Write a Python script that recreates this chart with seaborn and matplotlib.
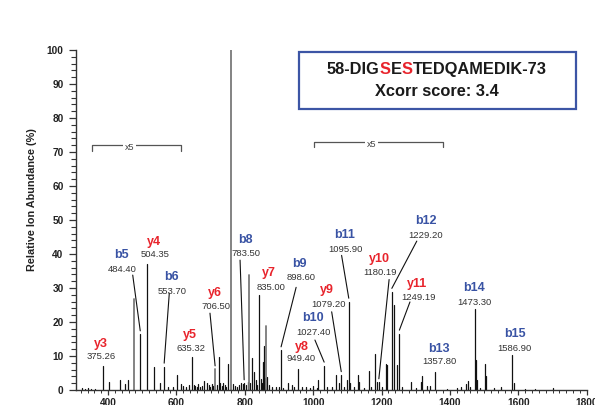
import numpy as np
import pandas as pd
import matplotlib
matplotlib.use("Agg")
import matplotlib.pyplot as plt
import seaborn as sns
from matplotlib.ticker import MultipleLocator
from matplotlib.patches import Rectangle

# spectrum peaks (m/z, relative ion abundance %)
peak_mz = [325, 333, 340, 350, 362, 386, 403, 435, 448, 459, 475, 494, 515, 535, 551,
           564, 575, 590, 601, 612, 620, 628, 636, 645, 650, 655, 660, 664, 670, 676,
           681, 689, 694, 698, 703, 707, 713, 718, 723, 728, 733, 737, 742, 746, 752,
           760, 766, 771, 778, 784, 789, 794, 798, 803, 808, 813, 816, 820, 827, 832,
           836, 842, 846, 849, 852, 856, 859, 862, 866, 870, 878, 890, 900, 906, 912,
           927, 938, 945, 956, 968, 980, 990, 1000, 1010, 1015, 1032, 1040, 1055, 1066,
           1074, 1082, 1090, 1098, 1104, 1108, 1120, 1132, 1135, 1150, 1164, 1170, 1182,
           1187, 1192, 1200, 1213, 1217, 1230, 1235, 1245, 1252, 1260, 1286, 1300, 1314,
           1319, 1332, 1341, 1357, 1390, 1420, 1432, 1446, 1454, 1458, 1472, 1475, 1478,
           1488, 1502, 1505, 1530, 1550, 1582, 1586, 1620, 1650, 1702]
peak_int = [0.5, 0.4, 0.6, 0.4, 0.3, 7.1, 2.4, 2.9, 1.7, 2.9, 26.7, 16.4, 37.2, 6.9, 2.0,
            6.9, 1.0, 0.8, 4.4, 1.7, 1.2, 0.8, 1.5, 9.8, 1.6, 1.2, 1.0, 1.8, 0.8, 1.2,
            2.7, 2.0, 1.5, 0.8, 1.8, 1.2, 6.1, 1.5, 9.8, 2.0, 1.3, 2.0, 1.6, 1.0, 7.6,
            100, 1.8, 1.3, 1.0, 1.4, 2.0, 1.8, 2.0, 1.6, 2.5, 33.8, 2.2, 9.3, 5.4, 2.8,
            1.5, 27.9, 3.2, 2.0, 8.3, 13.0, 3.5, 18.8, 3.9, 1.5, 1.0, 0.8, 1.0, 11.7, 0.6,
            2.0, 1.5, 0.8, 6.1, 1.0, 0.8, 0.5, 1.2, 0.6, 2.9, 7.2, 1.0, 0.8, 4.4,
            2.0, 4.4, 1.0, 2.9, 26.0, 2.0, 0.8, 4.4, 2.4, 0.6, 5.6, 1.0, 10.6,
            2.4, 2.3, 0.8, 7.6, 7.3, 28.9, 25.0, 7.3, 16.6, 0.8, 2.4, 0.5, 2.4,
            4.1, 1.2, 1.2, 5.2, 0.4, 0.6, 0.8, 1.8, 2.6, 1.0, 23.7, 8.8, 2.9,
            0.6, 7.6, 4.1, 0.5, 1.0, 10.3, 2.1, 0.4, 0.4, 0.7]
gray_mz = [475, 713, 760, 813, 862]

# annotated fragment ions
ion_names = ['y3', 'b5', 'y4', 'b6', 'y5', 'y6', 'b8', 'y7', 'b9', 'y8', 'b10', 'y9',
             'b11', 'y10', 'b12', 'y11', 'b13', 'b14', 'b15']
ion_values = ['375.26', '484.40', '504.35', '553.70', '635.32', '706.50', '783.50',
              '835.00', '898.60', '949.40', '1027.40', '1079.20', '1095.90', '1180.19',
              '1229.20', '1249.19', '1357.80', '1473.30', '1586.90']
ion_peak = [386, 494, 515, 564, 645, 713, 798, 842, 906, 956, 1032, 1082, 1104, 1192,
            1230, 1252, 1357, 1472, 1582]

# label layout: (x, y) of the ion name, of the m/z text, and where a leader starts
label_pos = [(379, 13.5), (440, 39.6), (535, 43.4), (586, 33.1), (640, 16.1),
             (713, 28.4), (801, 44.2), (871, 34.3), (961, 37.0), (966, 12.7),
             (998, 21.1), (1041, 29.4), (1091, 45.5), (1195, 38.5), (1330, 49.6),
             (1304, 31.1), (1368, 12.2), (1470, 29.9), (1589, 16.4)]
value_pos = [(379, 9.8), (442, 35.5), (537, 39.8), (588, 29.1), (642, 12.2),
             (715, 24.7), (804, 40.1), (876, 30.2), (966, 33.0), (964, 9.2),
             (1002, 17.0), (1044, 25.2), (1093, 41.4), (1195, 34.7), (1330, 45.4),
             (1309, 27.2), (1368, 8.3), (1472, 25.8), (1589, 12.2)]
leader_from = [None, (472, 33.8), None, (579, 28.5), None, (698, 22.6), (786, 38.2),
               None, (950, 30.2), None, (1005, 14.7), (1054, 23.0), (1083, 39.6),
               (1222, 32.5), (1303, 43.8), (1283, 25.9), None, None, None]

BLUE = '#3953a4'
RED = '#e8242c'

sns.set_theme(style="ticks")
plt.rcParams['font.family'] = ['Liberation Sans', 'DejaVu Sans']

# stems as two-point lines per peak
rows = []
for i, (m, h) in enumerate(zip(peak_mz, peak_int)):
    tone = 'gray' if m in gray_mz else 'black'
    rows.append({'peak': i, 'mz': m, 'intensity': 0.0, 'tone': tone})
    rows.append({'peak': i, 'mz': m, 'intensity': h, 'tone': tone})
df = pd.DataFrame(rows)

fig = plt.figure(figsize=(5.95, 4.05), dpi=100)
ax = fig.add_axes([0.1277, 0.037, 0.8589, 0.8395])

sns.lineplot(data=df[df['tone'] == 'black'], x='mz', y='intensity', units='peak',
             estimator=None, sort=False, color='#111111', lw=0.9, ax=ax)
sns.lineplot(data=df[df['tone'] == 'gray'], x='mz', y='intensity', units='peak',
             estimator=None, sort=False, color='#7a7a7a', lw=1.3, ax=ax)

ax.set_xlim(306, 1801)
ax.set_ylim(0, 100)
ax.xaxis.set_major_locator(MultipleLocator(200))
ax.xaxis.set_minor_locator(MultipleLocator(20))
ax.yaxis.set_major_locator(MultipleLocator(10))
ax.yaxis.set_minor_locator(MultipleLocator(2))
ax.set_xticks(range(400, 1801, 200))
sns.despine(ax=ax)
for side in ['left', 'bottom']:
    ax.spines[side].set_color('#333333')
    ax.spines[side].set_linewidth(1.0)
ax.tick_params(axis='y', which='major', length=5.4, width=0.9, color='#333333',
               pad=3.5, labelsize=7.3, labelcolor='#222222')
ax.tick_params(axis='y', which='minor', length=3.8, width=0.8, color='#333333')
ax.tick_params(axis='x', which='major', length=3.8, width=0.9, color='#333333',
               pad=2.0, labelsize=7.3, labelcolor='#222222')
ax.tick_params(axis='x', which='minor', length=2.2, width=0.7, color='#333333')
for lab in ax.get_xticklabels() + ax.get_yticklabels():
    lab.set_fontweight('bold')

ax.set_xlabel('')
ax.set_ylabel('Relative Ion Abundance (%)', fontsize=7.8, fontweight='bold', color='#222222')
ax.yaxis.set_label_coords(-0.076, 0.559)

# fragment labels
for name, val, pk, lp, vp, lf in zip(ion_names, ion_values, ion_peak, label_pos,
                                     value_pos, leader_from):
    col = BLUE if name.startswith('b') else RED
    ax.text(lp[0], lp[1], name, color=col, fontsize=9, fontweight='bold',
            ha='center', va='center')
    ax.text(vp[0], vp[1], val, color='#333333', fontsize=6.8, ha='center', va='center')
    if lf is not None:
        top = peak_int[peak_mz.index(pk)]
        ax.plot([lf[0], pk], [lf[1], top + 1.0], color='#111111', lw=0.8)

# x5 zoom brackets
for x0, x1, yb, yt in [(352, 613, 70.4, 72.0), (1001, 1379, 71.5, 72.9)]:
    ax.plot([x0, x0, x1, x1], [yb, yt, yt, yb], color='#555555', lw=0.9)
    ax.text((x0 + x1) / 2 - 20, yt - 0.6, 'x5', fontsize=6.5, color='#444444',
            ha='center', va='center',
            bbox=dict(facecolor='white', edgecolor='none', pad=1.2))

# peptide box
fig.patches.append(Rectangle((0.503, 0.730), 0.465, 0.142, transform=fig.transFigure,
                             fill=False, edgecolor='#3c55a5', lw=1.6))
pieces = [('58-DIG', '#1a1a1a'), ('S', RED), ('E', '#1a1a1a'), ('S', RED),
          ('TEDQAMEDIK-73', '#1a1a1a')]
full = ''.join(p[0] for p in pieces)
anchor = fig.text(0.734, 0.829, full, fontsize=11.8, fontweight='bold',
                  ha='center', va='center', alpha=0)
prev = anchor
for k, (txt, col) in enumerate(pieces):
    xy = (0, 0) if k == 0 else (1, 0)
    prev = ax.annotate(txt, xy=xy, xycoords=prev, fontsize=11.8, fontweight='bold',
                       color=col, ha='left', va='bottom', annotation_clip=False)
fig.text(0.734, 0.774, 'Xcorr score: 3.4', fontsize=11.8, fontweight='bold',
         color='#1a1a1a', ha='center', va='center')

fig.savefig('out.png', dpi=100)
